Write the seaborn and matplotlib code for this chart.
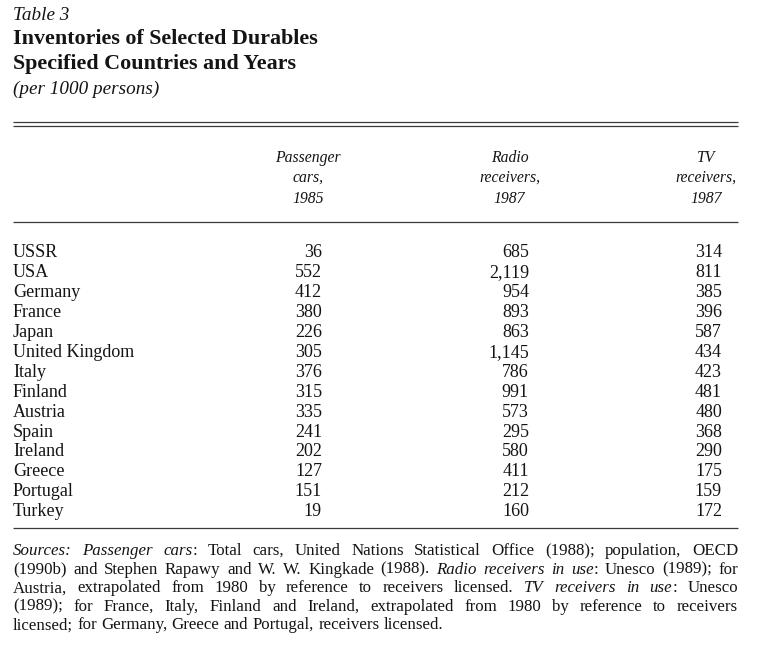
import matplotlib
matplotlib.use("Agg")
import matplotlib.pyplot as plt
import seaborn as sns
import pandas as pd

# Style: plain white page, serif book type
sns.set_theme(style="white")
plt.rcParams["font.family"] = ["Liberation Serif", "DejaVu Serif"]

INK = "#141414"
RULE = "#3a3a3a"

# =============================================================================
# DATA
# =============================================================================

countries = ["USSR", "USA", "Germany", "France", "Japan", "United Kingdom",
             "Italy", "Finland", "Austria", "Spain", "Ireland", "Greece",
             "Portugal", "Turkey"]
cars_1985 = [36, 552, 412, 380, 226, 305, 376, 315, 335, 241, 202, 127, 151, 19]
radio_1987 = [685, 2119, 954, 893, 863, 1145, 786, 991, 573, 295, 580, 411,
              212, 160]
tv_1987 = [314, 811, 385, 396, 587, 434, 423, 481, 480, 368, 290, 175, 159, 172]

col_headers = [["Passenger", "cars,", "1985"],
               ["Radio", "receivers,", "1987"],
               ["TV", "receivers,", "1987"]]

table_label = "Table 3"
title_lines = ["Inventories of Selected Durables",
               "Specified Countries and Years"]
subtitle = "(per 1000 persons)"

# *...* marks italic runs
source_lines = [
    "*Sources: Passenger cars*: Total cars, United Nations Statistical Office (1988); population, OECD",
    "(1990b) and Stephen Rapawy and W. W. Kingkade (1988). *Radio receivers in use*: Unesco (1989); for",
    "Austria, extrapolated from 1980 by reference to receivers licensed. *TV receivers in use*: Unesco",
    "(1989); for France, Italy, Finland and Ireland, extrapolated from 1980 by reference to receivers",
    "licensed; for Germany, Greece and Portugal, receivers licensed.",
]

df = pd.DataFrame({"country": countries, "cars": cars_1985,
                   "radio": radio_1987, "tv": tv_1987})

# =============================================================================
# LAYOUT (page pixels)
# =============================================================================

LEFT, RIGHT = 13, 738
COL_RIGHT = [322, 529, 722]
COL_HEAD_CENTER = [308, 509.5, 706]
HEAD_BASE = [161.7, 181.7, 202.7]
ROW0, ROW_STEP = 257, 19.95
SRC0, SRC_STEP = 555, 18.6
SRC_SIZE = 12.2


def parse_words(line, italic):
    words = []
    for raw in line.split(" "):
        pieces = []
        for j, chunk in enumerate(raw.split("*")):
            if j > 0:
                italic = not italic
            if chunk:
                pieces.append((chunk, italic))
        words.append(pieces)
    return words, italic


def draw_justified(ax, renderer, line, y, justify, italic, size):
    words, italic = parse_words(line, italic)
    word_arts, widths = [], []
    for pieces in words:
        arts, w = [], 0.0
        for text, it in pieces:
            t = ax.text(0, y, text, fontsize=size,
                        style="italic" if it else "normal",
                        ha="left", va="baseline", color=INK)
            pw = t.get_window_extent(renderer).width
            arts.append((t, pw))
            w += pw
        word_arts.append(arts)
        widths.append(w)
    probe1 = ax.text(0, y, "x x", fontsize=size)
    probe2 = ax.text(0, y, "xx", fontsize=size)
    space = (probe1.get_window_extent(renderer).width
             - probe2.get_window_extent(renderer).width)
    probe1.remove()
    probe2.remove()
    if justify and len(words) > 1:
        gap = (RIGHT - LEFT - sum(widths)) / (len(words) - 1)
    else:
        gap = space
    x = LEFT
    for arts in word_arts:
        for t, pw in arts:
            t.set_x(x)
            x += pw
        x += gap
    return italic


fig = plt.figure(figsize=(7.68, 6.58), dpi=100)
ax = fig.add_axes([0, 0, 1, 1])
ax.set_xlim(0, 768)
ax.set_ylim(658, 0)
ax.axis("off")
renderer = fig.canvas.get_renderer()

# Title block
ax.text(LEFT, 20, table_label, fontsize=13.8, style="italic",
        ha="left", va="baseline", color=INK)
for i, line in enumerate(title_lines):
    ax.text(LEFT, 44.5 + 24.5 * i, line, fontsize=15.8, fontweight="bold",
            ha="left", va="baseline", color=INK)
ax.text(LEFT, 94, subtitle, fontsize=13.8, style="italic",
        ha="left", va="baseline", color=INK)

# Rules
ax.hlines([122, 125.8], LEFT, RIGHT, color=RULE, lw=0.9)
ax.hlines([221.7, 528], LEFT, RIGHT, color=RULE, lw=0.9)

# Column headings
for cx, lines in zip(COL_HEAD_CENTER, col_headers):
    for yb, txt in zip(HEAD_BASE, lines):
        ax.text(cx, yb, txt, fontsize=11.3, style="italic",
                ha="center", va="baseline", color=INK)

# Body rows
for i, row in df.iterrows():
    y = ROW0 + ROW_STEP * i
    ax.text(LEFT, y, row["country"], fontsize=13, ha="left",
            va="baseline", color=INK)
    for cx, key in zip(COL_RIGHT, ["cars", "radio", "tv"]):
        ax.text(cx, y, f"{row[key]:,}", fontsize=13, ha="right",
                va="baseline", color=INK)

# Sources note, justified
italic = False
for i, line in enumerate(source_lines):
    last = i == len(source_lines) - 1
    italic = draw_justified(ax, renderer, line, SRC0 + SRC_STEP * i,
                            not last, italic, SRC_SIZE)

fig.savefig("out.png", dpi=100, facecolor="white")
plt.close(fig)
